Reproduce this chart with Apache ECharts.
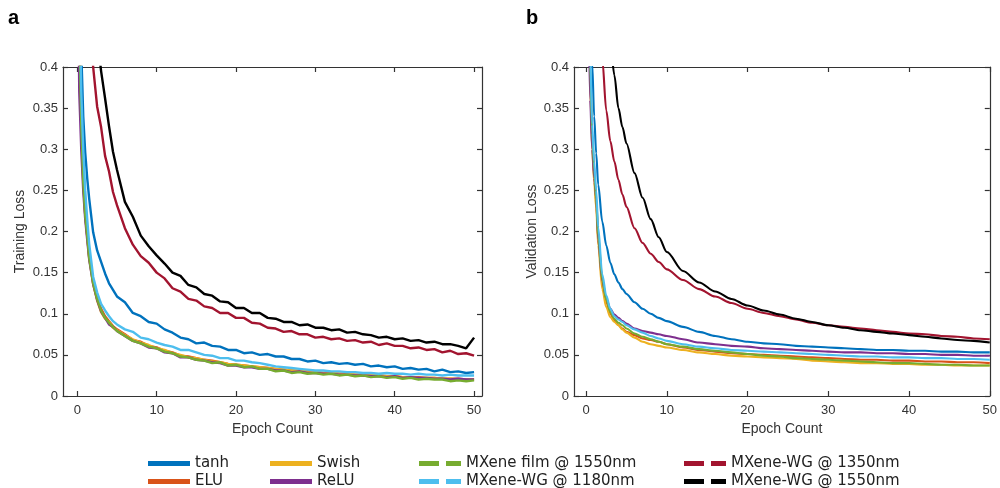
<!DOCTYPE html>
<html>
<head>
<meta charset="utf-8">
<script src="https://cdn.jsdelivr.net/npm/echarts@6/dist/echarts.min.js"></script>
<style>
html,body{margin:0;padding:0;background:#fff;}
#chart{width:1000px;height:488px;}
</style>
</head>
<body>
<div id="chart"></div>
<script>
// ---------- data ----------
const seriesNames = ['tanh', 'ELU', 'Swish', 'ReLU', 'MXene film @ 1550nm', 'MXene-WG @ 1180nm', 'MXene-WG @ 1350nm', 'MXene-WG @ 1550nm'];
const seriesColors = ['#0072BD', '#D95319', '#EDB120', '#7E2F8E', '#77AC30', '#4DBEEE', '#A2142F', '#000000'];
const dashedSeries = [false, false, false, false, true, true, true, true];
const xTicks = [0, 10, 20, 30, 40, 50];

// (a) training loss
const trainEpochs = [0.1, 0.25, 0.5, 0.75, 1, 1.25, 1.5, 2, 2.5, 3, 3.5, 4, 4.5, 5,
  6, 7, 8, 9, 10, 11, 12, 13, 14, 15, 16, 17, 18, 19, 20, 21, 22, 23, 24, 25, 26, 27, 28, 29, 30,
  31, 32, 33, 34, 35, 36, 37, 38, 39, 40, 41, 42, 43, 44, 45, 46, 47, 48, 49, 50];
const tanhTrain = [1.0, 0.6, 0.42, 0.34, 0.296, 0.265, 0.24, 0.199, 0.177, 0.163, 0.149, 0.137, 0.129, 0.121,
  0.114, 0.101, 0.097, 0.090, 0.088, 0.081, 0.077, 0.071, 0.069, 0.064, 0.065, 0.061, 0.060, 0.056, 0.056,
  0.052, 0.053, 0.050, 0.051, 0.048, 0.048, 0.045, 0.045, 0.042, 0.043, 0.040, 0.041, 0.039, 0.040, 0.038,
  0.039, 0.036, 0.037, 0.035, 0.036, 0.033, 0.034, 0.032, 0.033, 0.030, 0.032, 0.029, 0.030, 0.028, 0.029];
const eluTrain = [0.8, 0.46, 0.335, 0.265, 0.222, 0.196, 0.17, 0.139, 0.119, 0.106, 0.097, 0.091, 0.085, 0.081,
  0.075, 0.068, 0.066, 0.061, 0.059, 0.055, 0.053, 0.049, 0.048, 0.046, 0.044, 0.043, 0.041, 0.039, 0.038,
  0.037, 0.036, 0.035, 0.034, 0.033, 0.032, 0.031, 0.030, 0.030, 0.029, 0.028, 0.028, 0.027, 0.027, 0.026,
  0.026, 0.025, 0.025, 0.024, 0.024, 0.023, 0.023, 0.023, 0.022, 0.022, 0.021, 0.021, 0.021, 0.020, 0.020];
const swishTrain = [0.8, 0.45, 0.33, 0.262, 0.22, 0.194, 0.168, 0.136, 0.116, 0.102, 0.094, 0.09, 0.083, 0.080,
  0.074, 0.069, 0.065, 0.062, 0.058, 0.056, 0.052, 0.050, 0.047, 0.046, 0.044, 0.042, 0.041, 0.039, 0.038,
  0.037, 0.036, 0.035, 0.034, 0.033, 0.032, 0.031, 0.031, 0.030, 0.029, 0.028, 0.028, 0.027, 0.027, 0.026,
  0.025, 0.025, 0.025, 0.024, 0.024, 0.023, 0.023, 0.022, 0.022, 0.022, 0.021, 0.021, 0.020, 0.020, 0.020];
const reluTrain = [0.52, 0.37, 0.3, 0.25, 0.215, 0.19, 0.166, 0.136, 0.117, 0.103, 0.095, 0.087, 0.084, 0.079,
  0.073, 0.067, 0.064, 0.059, 0.058, 0.053, 0.052, 0.047, 0.047, 0.044, 0.043, 0.041, 0.040, 0.037, 0.037,
  0.035, 0.035, 0.033, 0.033, 0.031, 0.031, 0.029, 0.030, 0.028, 0.028, 0.027, 0.027, 0.026, 0.026, 0.025,
  0.025, 0.024, 0.024, 0.023, 0.024, 0.022, 0.023, 0.022, 0.022, 0.021, 0.021, 0.020, 0.021, 0.020, 0.020];
const filmTrain = [0.75, 0.45, 0.33, 0.26, 0.22, 0.195, 0.168, 0.137, 0.118, 0.104, 0.095, 0.089, 0.084, 0.079,
  0.073, 0.067, 0.064, 0.060, 0.058, 0.054, 0.052, 0.048, 0.047, 0.044, 0.043, 0.040, 0.041, 0.037, 0.038,
  0.035, 0.036, 0.033, 0.033, 0.030, 0.031, 0.028, 0.029, 0.027, 0.028, 0.026, 0.027, 0.025, 0.026, 0.024,
  0.025, 0.023, 0.024, 0.022, 0.023, 0.021, 0.022, 0.020, 0.021, 0.020, 0.020, 0.018, 0.019, 0.018, 0.019];
const wg1180Train = [0.8, 0.5, 0.37, 0.3, 0.25, 0.215, 0.185, 0.145, 0.126, 0.112, 0.104, 0.097, 0.091, 0.087,
  0.081, 0.078, 0.071, 0.069, 0.065, 0.062, 0.060, 0.056, 0.056, 0.053, 0.050, 0.049, 0.046, 0.046, 0.043,
  0.043, 0.041, 0.040, 0.038, 0.036, 0.035, 0.034, 0.033, 0.032, 0.031, 0.031, 0.030, 0.030, 0.029, 0.029,
  0.028, 0.028, 0.027, 0.028, 0.027, 0.027, 0.026, 0.027, 0.026, 0.026, 0.025, 0.026, 0.025, 0.025, 0.025];
const wg1350Train = [1.2, 1.0, 0.75, 0.66, 0.58, 0.52, 0.47, 0.4, 0.352, 0.327, 0.292, 0.273, 0.248, 0.232,
  0.204, 0.184, 0.170, 0.162, 0.150, 0.143, 0.131, 0.127, 0.118, 0.116, 0.109, 0.107, 0.101, 0.101, 0.095,
  0.095, 0.089, 0.088, 0.083, 0.082, 0.078, 0.079, 0.075, 0.075, 0.071, 0.072, 0.069, 0.070, 0.067, 0.068,
  0.065, 0.066, 0.062, 0.064, 0.061, 0.061, 0.058, 0.059, 0.056, 0.057, 0.053, 0.055, 0.051, 0.052, 0.049];
const wg1550Train = [1.5, 1.3, 1.0, 0.88, 0.8, 0.72, 0.64, 0.52, 0.44, 0.395, 0.362, 0.328, 0.297, 0.275,
  0.236, 0.218, 0.195, 0.182, 0.171, 0.161, 0.150, 0.146, 0.135, 0.132, 0.124, 0.122, 0.115, 0.114, 0.107,
  0.107, 0.101, 0.101, 0.095, 0.094, 0.090, 0.090, 0.086, 0.087, 0.083, 0.083, 0.080, 0.081, 0.077, 0.078,
  0.075, 0.074, 0.071, 0.072, 0.069, 0.070, 0.067, 0.068, 0.065, 0.066, 0.063, 0.063, 0.061, 0.058, 0.071];

// (b) validation loss
const valEpochs = [0.1, 0.25, 0.5, 0.75, 1, 1.25, 1.5, 2, 2.5, 3, 3.5, 4, 4.5, 5,
  6, 7, 8, 9, 10, 12, 14, 16, 18, 20, 22, 24, 26, 28, 30, 32, 34, 36, 38, 40, 42, 44, 46, 48, 50];
const tanhVal = [1.5, 1.0, 0.55, 0.405, 0.34, 0.295, 0.257, 0.212, 0.183, 0.162, 0.148, 0.138, 0.13, 0.124,
  0.114, 0.106, 0.1, 0.095, 0.091, 0.084, 0.078, 0.073, 0.069, 0.066, 0.064, 0.063, 0.061, 0.060, 0.059,
  0.058, 0.057, 0.056, 0.056, 0.055, 0.055, 0.054, 0.054, 0.053, 0.053];
const eluVal = [1.0, 0.63, 0.39, 0.31, 0.27, 0.235, 0.19, 0.138, 0.114, 0.1, 0.092, 0.086, 0.082, 0.078,
  0.074, 0.070, 0.068, 0.066, 0.063, 0.059, 0.056, 0.054, 0.052, 0.051, 0.050, 0.049, 0.048, 0.047, 0.046,
  0.045, 0.044, 0.044, 0.043, 0.043, 0.042, 0.042, 0.041, 0.041, 0.040];
const swishVal = [1.0, 0.62, 0.38, 0.3, 0.26, 0.228, 0.183, 0.13, 0.108, 0.096, 0.09, 0.086, 0.081, 0.077,
  0.071, 0.066, 0.063, 0.061, 0.059, 0.056, 0.053, 0.051, 0.049, 0.048, 0.047, 0.046, 0.045, 0.043, 0.042,
  0.041, 0.040, 0.040, 0.039, 0.039, 0.038, 0.038, 0.037, 0.037, 0.037];
const reluVal = [0.9, 0.5, 0.36, 0.3, 0.265, 0.24, 0.19, 0.14, 0.118, 0.106, 0.099, 0.095, 0.091, 0.088,
  0.082, 0.079, 0.077, 0.075, 0.073, 0.069, 0.065, 0.063, 0.061, 0.060, 0.058, 0.057, 0.056, 0.055, 0.054,
  0.053, 0.053, 0.052, 0.052, 0.051, 0.051, 0.050, 0.050, 0.049, 0.049];
const filmVal = [1.0, 0.65, 0.4, 0.32, 0.275, 0.24, 0.195, 0.142, 0.117, 0.102, 0.094, 0.089, 0.086, 0.082,
  0.076, 0.072, 0.069, 0.066, 0.063, 0.060, 0.057, 0.055, 0.053, 0.051, 0.049, 0.048, 0.046, 0.045, 0.044,
  0.043, 0.042, 0.041, 0.040, 0.040, 0.039, 0.038, 0.038, 0.037, 0.037];
const wg1180Val = [1.2, 0.8, 0.42, 0.33, 0.285, 0.25, 0.205, 0.148, 0.122, 0.106, 0.097, 0.093, 0.09, 0.086,
  0.081, 0.077, 0.073, 0.070, 0.067, 0.063, 0.060, 0.058, 0.056, 0.055, 0.054, 0.053, 0.052, 0.051, 0.050,
  0.049, 0.048, 0.048, 0.047, 0.047, 0.046, 0.046, 0.045, 0.045, 0.044];
const wg1350Val = [2.0, 1.6, 1.2, 0.95, 0.78, 0.65, 0.55, 0.41, 0.347, 0.31, 0.285, 0.263, 0.245, 0.23,
  0.204, 0.186, 0.173, 0.163, 0.154, 0.141, 0.130, 0.121, 0.113, 0.106, 0.101, 0.097, 0.093, 0.089, 0.086,
  0.084, 0.082, 0.080, 0.078, 0.076, 0.075, 0.073, 0.072, 0.070, 0.069];
const wg1550Val = [2.0, 1.8, 1.5, 1.2, 1.0, 0.85, 0.75, 0.6, 0.5, 0.43, 0.39, 0.35, 0.327, 0.307,
  0.271, 0.241, 0.215, 0.193, 0.175, 0.152, 0.138, 0.127, 0.118, 0.110, 0.104, 0.099, 0.094, 0.090, 0.086,
  0.083, 0.080, 0.078, 0.076, 0.074, 0.072, 0.070, 0.068, 0.067, 0.065];

const trainSets = [tanhTrain, eluTrain, swishTrain, reluTrain, filmTrain, wg1180Train, wg1350Train, wg1550Train];
const valSets = [tanhVal, eluVal, swishVal, reluVal, filmVal, wg1180Val, wg1350Val, wg1550Val];

// ---------- chart ----------
const axisColor = '#333333';
const tickFont = {fontFamily: 'Liberation Sans, Arial, sans-serif', fontSize: 13, color: '#333333'};
const nameFont = {fontFamily: 'Liberation Sans, Arial, sans-serif', fontSize: 14, color: '#333333'};

function xAxisDef(grid, min, max, pos, withLabels) {
  return {
    gridIndex: grid, type: 'value', min: min, max: max, position: pos,
    axisLine: {show: true, onZero: false, lineStyle: {color: axisColor, width: 1.2}},
    axisTick: {show: true, inside: true, length: 5, customValues: xTicks, lineStyle: {color: axisColor, width: 1.2}},
    axisLabel: withLabels ? Object.assign({show: true, customValues: xTicks, margin: 8}, tickFont) : {show: false},
    splitLine: {show: false},
    name: withLabels ? 'Epoch Count' : '',
    nameLocation: 'middle', nameGap: 26, nameTextStyle: nameFont
  };
}
function yAxisDef(grid, pos, name, gap) {
  return {
    gridIndex: grid, type: 'value', min: 0, max: 0.4, interval: 0.05, position: pos,
    axisLine: {show: true, onZero: false, lineStyle: {color: axisColor, width: 1.2}},
    axisTick: {show: true, inside: true, length: 5, lineStyle: {color: axisColor, width: 1.2}},
    axisLabel: name ? Object.assign({show: true, margin: 5,
      formatter: v => String(Math.round(v * 100) / 100)}, tickFont) : {show: false},
    splitLine: {show: false},
    name: name || '', nameLocation: 'middle', nameGap: gap || 0, nameTextStyle: nameFont
  };
}

const series = [];
function addSeries(xs, sets, xi, yi, smooth, width) {
  sets.forEach((ys, k) => {
    series.push({
      type: 'line', name: seriesNames[k], xAxisIndex: xi, yAxisIndex: yi,
      data: xs.map((x, i) => [x, ys[i]]),
      showSymbol: false, symbol: 'none', clip: true,
      smooth: smooth ? 0.3 : false, smoothMonotone: smooth ? 'x' : undefined,
      color: seriesColors[k],
      itemStyle: {color: seriesColors[k]},
      lineStyle: {color: seriesColors[k], width: width},
      emphasis: {disabled: true},
      animation: false
    });
  });
}
addSeries(trainEpochs, trainSets, 0, 0, false, 2.4);
addSeries(valEpochs, valSets, 1, 1, true, 2.1);

const solidIcon = 'path://M0,0H42V5H0Z';
const dashIcon = 'path://M0,0H20V5H0Z M27,0H42V5H27Z';
const legendCols = [148, 148, 270, 270, 419, 419, 684, 684];
const legendRows = [455, 473, 455, 473, 455, 473, 455, 473];
const legends = seriesNames.map((n, i) => ({
  orient: 'horizontal', left: legendCols[i], top: legendRows[i], padding: 0,
  itemWidth: 42, itemHeight: 5, itemGap: 0,
  symbolKeepAspect: false, selectedMode: false,
  textStyle: {fontFamily: 'DejaVu Sans, Verdana, sans-serif', fontSize: 15, color: '#222', lineHeight: 17},
  data: [{name: n, icon: dashedSeries[i] ? dashIcon : solidIcon}]
}));

const option = {
  backgroundColor: '#ffffff',
  animation: false,
  grid: [
    {left: 63, top: 67, width: 419, height: 329},
    {left: 574, top: 67, width: 418, height: 329}
  ],
  xAxis: [
    xAxisDef(0, -1.8, 51, 'bottom', true),
    xAxisDef(1, -1.5, 50, 'bottom', true),
    xAxisDef(0, -1.8, 51, 'top', false),
    xAxisDef(1, -1.5, 50, 'top', false)
  ],
  yAxis: [
    yAxisDef(0, 'left', 'Training Loss', 36),
    yAxisDef(1, 'left', 'Validation Loss', 35),
    yAxisDef(0, 'right', null),
    yAxisDef(1, 'right', null)
  ],
  legend: legends,
  graphic: [
    {type: 'text', x: 8, y: 8, style: {text: 'a', font: 'bold 20px Liberation Sans, Arial, sans-serif', fill: '#000'}},
    {type: 'text', x: 526, y: 8, style: {text: 'b', font: 'bold 20px Liberation Sans, Arial, sans-serif', fill: '#000'}}
  ],
  series: series
};

const chart = echarts.init(document.getElementById('chart'), null, {renderer: 'canvas'});
chart.setOption(option);
</script>
</body>
</html>
